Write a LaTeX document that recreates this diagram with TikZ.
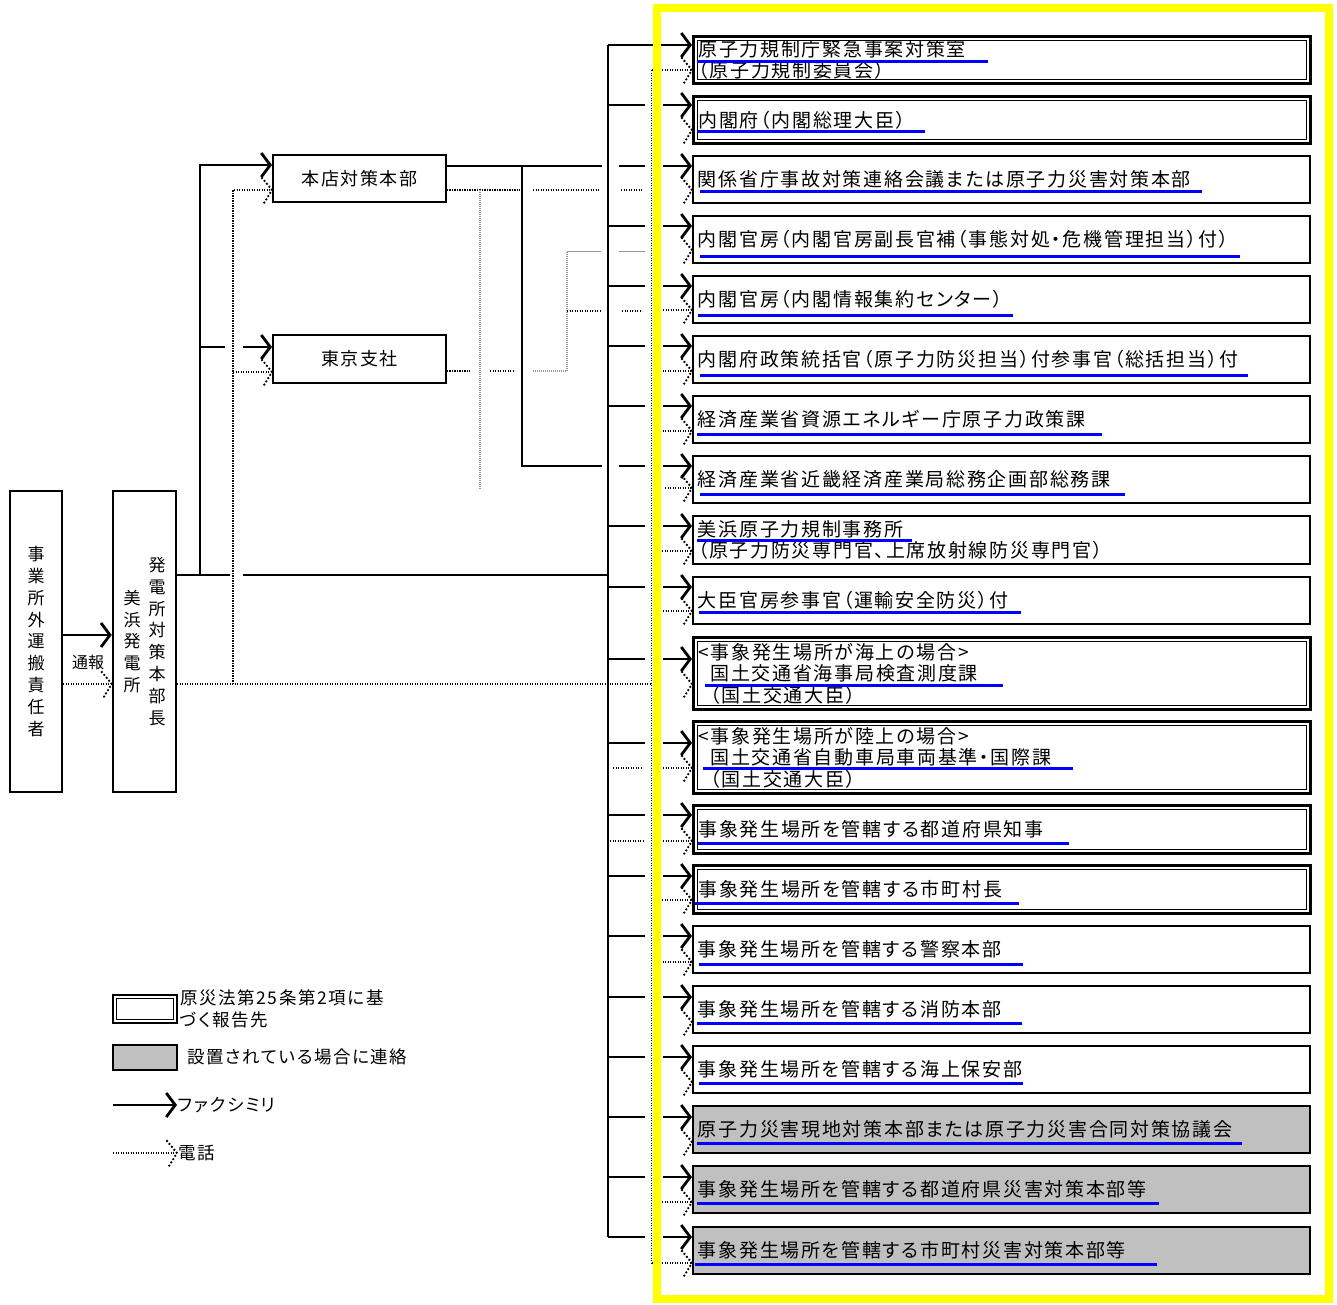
\documentclass[tikz,border=0pt]{standalone}
\usepackage{fontspec}
\usetikzlibrary{arrows.meta}
\newfontfamily\jp[LetterSpace=9,RawFeature=+palt]{Noto Sans CJK JP}
\newfontfamily\jpv{Noto Sans CJK JP}
\definecolor{ulblue}{RGB}{0,0,255}
\definecolor{boxgray}{RGB}{192,192,192}
\definecolor{ylw}{RGB}{255,255,0}
\definecolor{lgray}{RGB}{150,150,150}
\begin{document}
\begin{tikzpicture}[x=1pt,y=-1pt,
  box/.style={draw, line width=1.9pt, rectangle, inner sep=0pt},
  dest/.style={box, anchor=north west, minimum height=47pt, text width=607pt, inner xsep=5pt, inner ysep=0pt, align=left, font=\jp\fontsize{19}{21.5}\selectfont},
  dbl/.style={line width=2.8pt, path picture={\draw[line width=1pt] ([shift={(3.8pt,-3.8pt)}]path picture bounding box.north west) rectangle ([shift={(-3.8pt,3.8pt)}]path picture bounding box.south east);}},
  gbox/.style={fill=boxgray},
  vtxt/.style={align=center, inner sep=0pt, font=\jpv\fontsize{17}{21.9}\selectfont},
  lgtxt/.style={inner sep=1pt, font=\jp\fontsize{17.5}{21.5}\selectfont},
  thickline/.style={line width=2.8pt},
  fax/.style={line width=2.8pt, -{Straight Barb[length=9pt, width=24pt, line width=2.8pt]}},
  dots/.style={line width=1.3pt, dash pattern=on 1.2pt off 1.3pt},
  gdots/.style={line width=1.1pt, lgray, dash pattern=on 1pt off 1pt},
  gline/.style={line width=1pt, lgray},
  ul/.style={line width=3pt, ulblue},
  dtip/.pic={\draw[line width=2.6pt, dash pattern=on 0pt off 3.8pt, line cap=round] (-10pt,12pt) -- (0pt,0pt) -- (-8pt,-13pt);}
]
\useasboundingbox (0,0) rectangle (1337,1304);

% ---------- left boxes ----------
\node[box, line width=2.4pt, minimum width=52pt, minimum height=301pt, align=center, font=\jpv\fontsize{17}{21.9}\selectfont] (ext) at (36,641.5) {事\\業\\所\\外\\運\\搬\\責\\任\\者};
\node[box, line width=2.4pt, minimum width=63pt, minimum height=301pt] (npp) at (144.5,641.5) {};
\node[vtxt] (nppR) at (157,641.5) {発\\電\\所\\対\\策\\本\\部\\長};
\node[vtxt] (nppL) at (132,641.5) {美\\浜\\発\\電\\所};

\node[box, minimum width=173pt, minimum height=47pt, font=\jp\fontsize{18}{21}\selectfont] (hq) at (359.5,178.5) {本店対策本部};
\node[box, minimum width=173pt, minimum height=48pt, font=\jp\fontsize{18}{21}\selectfont] (tokyo) at (359.5,359) {東京支社};

% ---------- destination boxes ----------
\node[dest,dbl] (b1) at (692,35) {原子力規制庁緊急事案対策室\\（原子力規制委員会）};
\node[dest,dbl] (b2) at (692,95) {内閣府（内閣総理大臣）};
\node[dest] (b3) at (692,155) {関係省庁事故対策連絡会議または原子力災害対策本部};
\node[dest] (b4) at (692,215) {内閣官房（内閣官房副長官補（事態対処・危機管理担当）付）};
\node[dest] (b5) at (692,275) {内閣官房（内閣情報集約センター）};
\node[dest] (b6) at (692,335) {内閣府政策統括官（原子力防災担当）付参事官（総括担当）付};
\node[dest] (b7) at (692,395) {経済産業省資源エネルギー庁原子力政策課};
\node[dest] (b8) at (692,455) {経済産業省近畿経済産業局総務企画部総務課};
\node[dest,minimum height=48pt] (b9) at (692,515) {美浜原子力規制事務所\\（原子力防災専門官、上席放射線防災専門官）};
\node[dest] (b10) at (692,576) {大臣官房参事官（運輸安全防災）付};
\node[dest,dbl,minimum height=72pt] (b11) at (692,636) {<事象発生場所が海上の場合>\\\hspace*{12pt}国土交通省海事局検査測度課\\\hspace*{12pt}（国土交通大臣）};
\node[dest,dbl,minimum height=72pt] (b12) at (692,720) {<事象発生場所が陸上の場合>\\\hspace*{12pt}国土交通省自動車局車両基準・国際課\\\hspace*{12pt}（国土交通大臣）};
\node[dest,dbl,minimum height=48pt] (b13) at (692,804) {事象発生場所を管轄する都道府県知事};
\node[dest,dbl,minimum height=48pt] (b14) at (692,864) {事象発生場所を管轄する市町村長};
\node[dest] (b15) at (692,925) {事象発生場所を管轄する警察本部};
\node[dest] (b16) at (692,985) {事象発生場所を管轄する消防本部};
\node[dest] (b17) at (692,1045) {事象発生場所を管轄する海上保安部};
\node[dest,gbox] (b18) at (692,1105) {原子力災害現地対策本部または原子力災害合同対策協議会};
\node[dest,gbox] (b19) at (692,1165) {事象発生場所を管轄する都道府県災害対策本部等};
\node[dest,gbox] (b20) at (692,1226) {事象発生場所を管轄する市町村災害対策本部等};

% blue underlines
\foreach \y/\a/\b in {61/697/988, 131/697/925, 191/700/1202, 256/700/1240, 315/698/1013,
  375/700/1248, 434/697/1102, 494/700/1125, 540/697/912, 612/699/1021, 685/705/1003,
  768/703/1073, 843/698/1069, 903/695/1019, 964/699/1023, 1023/697/1022, 1083/699/1023,
  1143/697/1242, 1203/697/1159, 1264/695/1157}
  \draw[ul] (\a,\y) -- (\b,\y);

% ---------- left connectors ----------
\draw[fax] (ext.east |- 0,635) -- (npp.west |- 0,635);
\node[inner sep=0pt, font=\jpv\fontsize{16}{18}\selectfont] (tsuho) at (88,662) {通報};
\draw[dots] (ext.east |- 0,684) -- (npp.west |- 0,684);
\pic at (npp.west |- 0,684) {dtip};

\draw[thickline] (npp.east |- 0,575) -- (230,575);
\draw[thickline] (243,575) -- (608,575);
\draw[fax] (200,575) |- (hq.west |- 0,165);
\draw[thickline] (200,347) -- (225,347);
\draw[fax] (243,347) -- (tokyo.west |- 0,347);

\draw[dots] (npp.east |- 0,684) -- (650,684);
\draw[dots] (233,684) |- (hq.west |- 0,190);
\pic at (hq.west |- 0,190) {dtip};
\draw[dots] (233,372) -- (tokyo.west |- 0,372);
\pic at (tokyo.west |- 0,372) {dtip};

% from 本店対策本部
\draw[thickline] (hq.east |- 0,166) -- (602,166);
\draw[thickline] (619,166) -- (645,166);
\draw[thickline] (522,166) |- (602,466);
\draw[thickline] (619,466) -- (645,466);
\draw[dots] (hq.east |- 0,190) -- (520,190);
\draw[dots] (533,190) -- (600,190);
\draw[dots] (621,190) -- (642,190);
\draw[gdots] (480,190) -- (480,490);

% from 東京支社
\draw[dots] (tokyo.east |- 0,371) -- (470,371);
\draw[dots] (490,371) -- (515,371);
\draw[gdots] (533,371) -| (567,251);
\draw[gline] (567,251) -- (601,251);
\draw[gline] (619,251) -- (645,251);
\draw[dots] (567,311) -- (601,311);
\draw[dots] (622,311) -- (642,311);

% ---------- bus ----------
\draw[thickline] (608,45) -- (608,1237);
\draw[fax] (608,45) -- (b1.west |- 0,45);
\foreach \y in {105,226,286,346,406,526,587,659,743,815,876,936,997,1057,1117,1177,1237}
  \draw[thickline] (608,\y) -- (645,\y);
\foreach \i/\y in {2/105,3/166,4/226,5/286,6/346,7/406,8/466,9/526,10/587,11/659,12/743,
  13/815,14/876,15/936,16/997,17/1057,18/1117,19/1177,20/1237}
  \draw[fax] (663,\y) -- (b\i.west |- 0,\y);

% dotted bus and branches
\draw[dots] (651.5,70) -- (651.5,1263);
\foreach \i/\y/\a in {1/70/652, 5/310/663, 6/371/660, 7/431/660, 8/488/665, 9/551/662, 10/611/663,
  12/768/663, 13/841/663, 14/900/662, 15/962/660, 19/1202/662, 20/1263/652}
  \draw[dots] (\a,\y) -- (b\i.west |- 0,\y);
\draw[dots] (613,768) -- (643,768);
\draw[dots] (610,841) -- (643,841);
\foreach \i/\y in {1/70,2/130,3/190,4/250,5/310,6/371,7/431,8/488,9/551,10/611,11/684,12/768,
  13/841,14/900,15/962,16/1022,17/1082,18/1142,19/1202,20/1263}
  \pic at (b\i.west |- 0,\y) {dtip};

% yellow frame
\draw[ylw, line width=8pt] (657,8) rectangle (1329,1299);

% ---------- legend ----------
\node[box, dbl, minimum width=64pt, minimum height=28pt] (legA) at (145,1009) {};
\node[lgtxt, anchor=west, align=left] (legAt) at (179,1009) {原災法第25条第2項に基\\づく報告先};
\node[box, line width=2.2pt, fill=boxgray, minimum width=64pt, minimum height=25pt] (legB) at (145,1057.5) {};
\node[lgtxt, anchor=west] (legBt) at (186,1057) {設置されている場合に連絡};
\coordinate (lc1) at (113,1105);
\node[lgtxt, anchor=west] (legCt) at (177,1105) {ファクシミリ};
\draw[fax] (lc1) -- (legCt.west);
\coordinate (lc2) at (113,1153);
\node[lgtxt, anchor=west] (legDt) at (177,1153) {電話};
\draw[dots] (lc2) -- (legDt.west);
\pic at (legDt.west) {dtip};
\end{tikzpicture}
\end{document}
